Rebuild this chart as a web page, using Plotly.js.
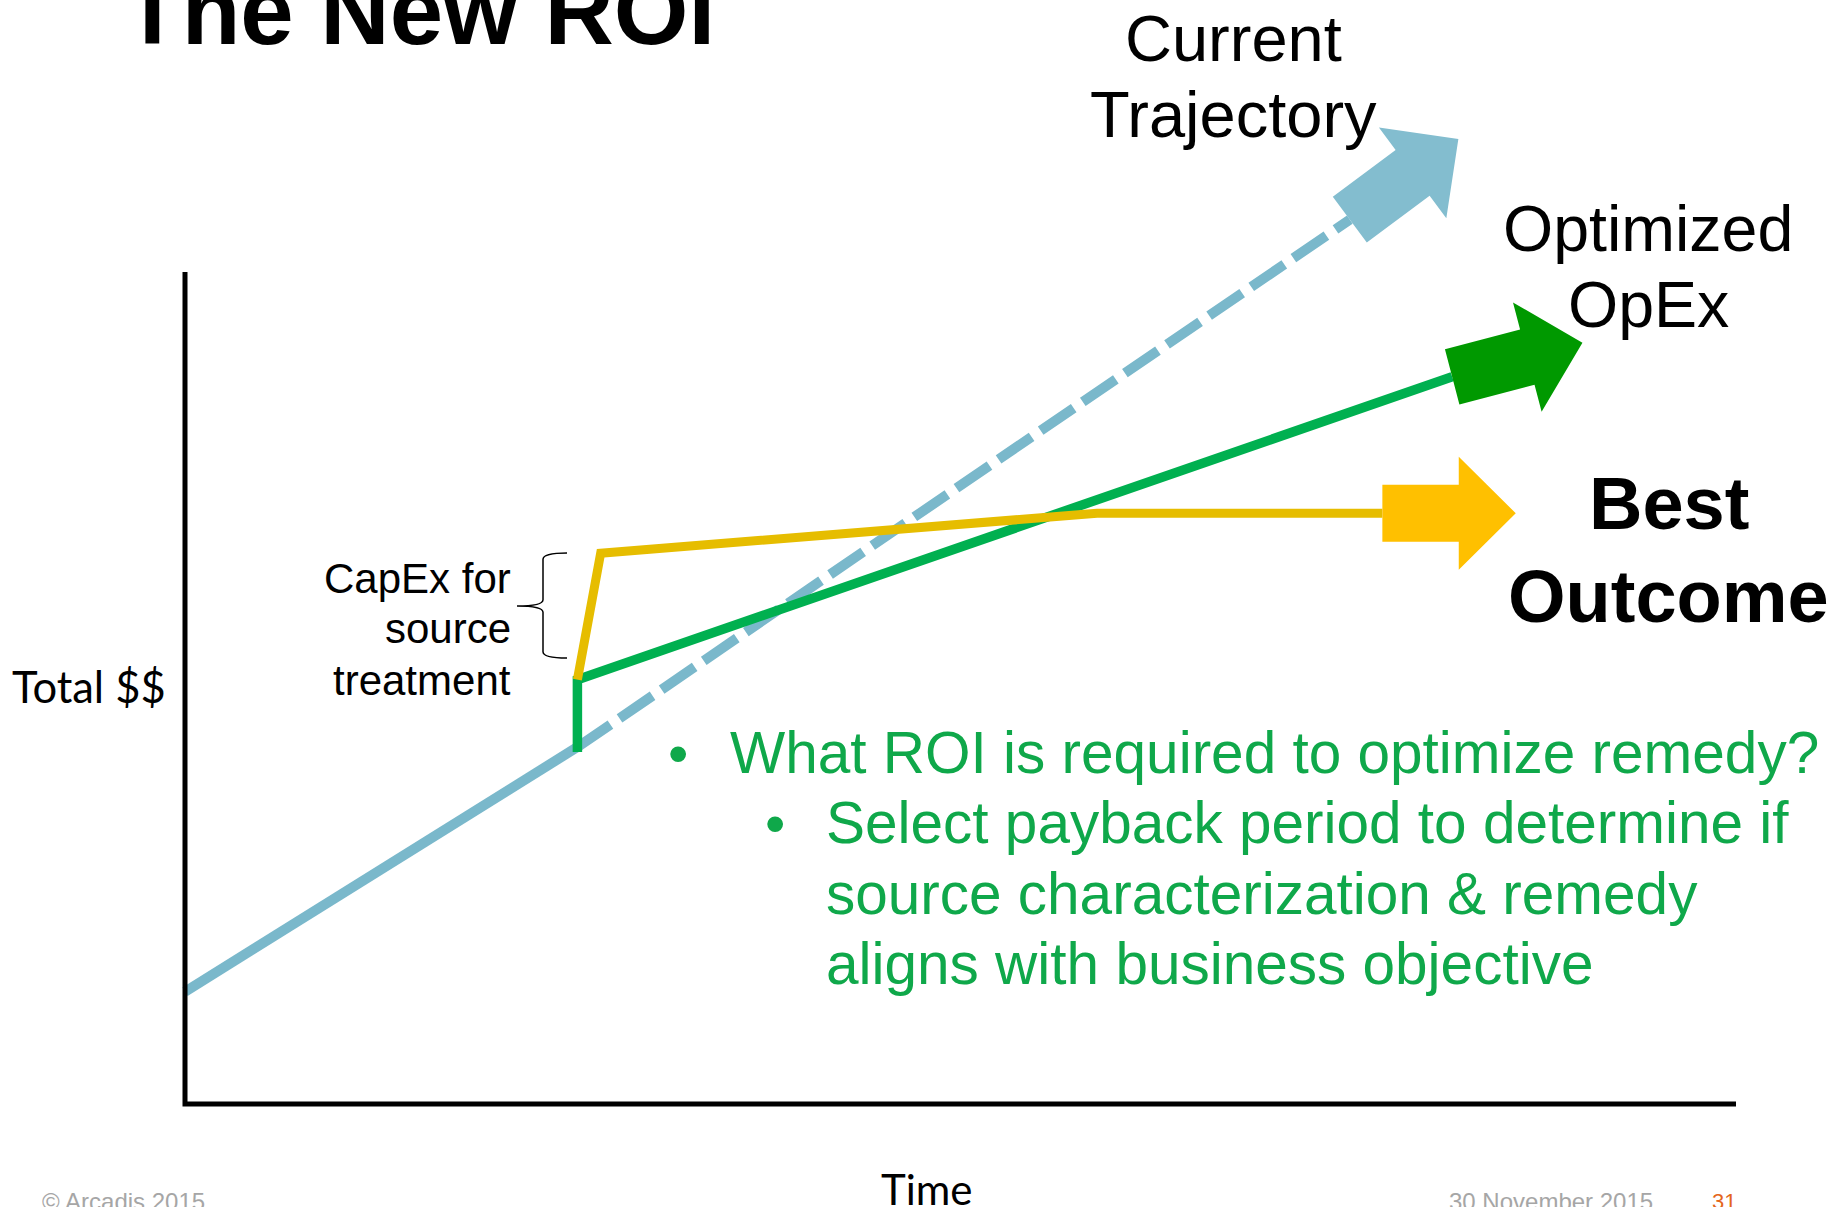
<!DOCTYPE html>
<html>
<head>
<meta charset="utf-8">
<script src="https://cdn.plot.ly/plotly-3.0.1.min.js"></script>
<style>
  html, body { margin: 0; padding: 0; background: #fff; }
  #graph { width: 1839px; height: 1207px; }
</style>
</head>
<body>
<div id="graph"></div>
<script>
// chart units: time 0..100 along the x axis, total $$ 0..100 up the y axis

// current trajectory: solid up to the decision point, dashed after it
var currentTime = [0, 25.3, 75.1];
var currentCost = [13.5, 42.9, 106.3];
var currentTip = [82.1, 116.0];

// optimized OpEx: capex jump then a flatter slope
var optTime = [25.3, 25.3, 81.7];
var optCost = [42.3, 51.0, 87.4];
var optTip = [90.1, 91.5];

// best outcome: source treatment capex, then levelling off
var bestTime = [25.3, 26.8, 58.8, 77.2];
var bestCost = [51.0, 66.2, 71.0, 71.0];
var bestTip = [85.8, 71.0];

var W = 1839, H = 1207;

// where the axes sit on the page (pixels)
var AX = { x0: 185, x1: 1736, y0: 1104, y1: 272 };
var sx = (AX.x1 - AX.x0) / 100;
var sy = (AX.y0 - AX.y1) / 100;

function toPx(t, c) { return [AX.x0 + t * sx, AX.y0 - c * sy]; }
function fromPx(px, py) { return [(px - AX.x0) / sx, (AX.y0 - py) / sy]; }

/**
 * Block arrow polygon from the end of a line to its tip.
 * Sizes are in pixels, result is in chart units.
 */
function blockArrow(backT, backC, tip) {
    var b = toPx(backT, backC), t = toPx(tip[0], tip[1]);
    var dx = t[0] - b[0], dy = t[1] - b[1];
    var len = Math.sqrt(dx * dx + dy * dy);
    var ux = dx / len, uy = dy / len;
    var nx = -uy, ny = ux;
    var shaftHalf = 28.5, headHalf = 56.5, headLen = 57;
    var s = len - headLen;
    var pts = [
        [b[0] + nx * shaftHalf, b[1] + ny * shaftHalf],
        [b[0] + ux * s + nx * shaftHalf, b[1] + uy * s + ny * shaftHalf],
        [b[0] + ux * s + nx * headHalf, b[1] + uy * s + ny * headHalf],
        [t[0], t[1]],
        [b[0] + ux * s - nx * headHalf, b[1] + uy * s - ny * headHalf],
        [b[0] + ux * s - nx * shaftHalf, b[1] + uy * s - ny * shaftHalf],
        [b[0] - nx * shaftHalf, b[1] - ny * shaftHalf]
    ];
    var xs = [], ys = [];
    pts.forEach(function (p) {
        var d = fromPx(p[0], p[1]);
        xs.push(d[0]);
        ys.push(d[1]);
    });
    xs.push(xs[0]);
    ys.push(ys[0]);
    return { x: xs, y: ys };
}

function arrowTrace(poly, color) {
    return {
        x: poly.x, y: poly.y, type: 'scatter', mode: 'lines',
        fill: 'toself', fillcolor: color, line: { width: 0, color: color },
        hoverinfo: 'skip'
    };
}

// text placed by page pixels (y = vertical middle of the line)
function label(text, px, py, size, opts) {
    opts = opts || {};
    return {
        xref: 'paper', yref: 'paper', x: px / W, y: 1 - py / H,
        text: text, showarrow: false,
        xanchor: opts.anchor || 'left', yanchor: 'middle',
        font: {
            family: opts.family || 'Liberation Sans, Arial, sans-serif',
            size: size, color: opts.color || '#000000'
        }
    };
}

function drawGraph() {
    var n = currentTime.length;
    var blue = '#7ab8cb', green = '#00b050', yellow = '#e6bd00';
    var green2 = '#0fa84a';

    var data = [
        {
            x: currentTime.slice(0, 2), y: currentCost.slice(0, 2),
            type: 'scatter', mode: 'lines',
            line: { color: blue, width: 10 }, hoverinfo: 'skip'
        },
        {
            x: currentTime.slice(1), y: currentCost.slice(1),
            type: 'scatter', mode: 'lines',
            line: { color: blue, width: 10, dash: '40px,11px' }, hoverinfo: 'skip'
        },
        arrowTrace(blockArrow(currentTime[n - 1], currentCost[n - 1], currentTip), '#83bdcf'),
        {
            x: optTime, y: optCost, type: 'scatter', mode: 'lines',
            line: { color: green, width: 9.5 }, hoverinfo: 'skip'
        },
        arrowTrace(blockArrow(optTime[optTime.length - 1], optCost[optCost.length - 1], optTip), '#009900'),
        {
            x: bestTime, y: bestCost, type: 'scatter', mode: 'lines',
            line: { color: yellow, width: 9 }, hoverinfo: 'skip'
        },
        arrowTrace(blockArrow(bestTime[bestTime.length - 1], bestCost[bestCost.length - 1], bestTip), '#ffc000')
    ];

    // curly brace next to the capex label
    var bt = fromPx(517, 606), bs = fromPx(543, 606), be = fromPx(567, 606);
    var top = fromPx(0, 553)[1], bot = fromPx(0, 658)[1], mid = bt[1];
    var r = (top - bot) * 0.06;
    var brace = 'M ' + be[0] + ',' + top +
        ' Q ' + bs[0] + ',' + top + ' ' + bs[0] + ',' + (top - r) +
        ' L ' + bs[0] + ',' + (mid + r) +
        ' Q ' + bs[0] + ',' + mid + ' ' + bt[0] + ',' + mid +
        ' Q ' + bs[0] + ',' + mid + ' ' + bs[0] + ',' + (mid - r) +
        ' L ' + bs[0] + ',' + (bot + r) +
        ' Q ' + bs[0] + ',' + bot + ' ' + be[0] + ',' + bot;

    var layout = {
        width: W, height: H,
        margin: { l: 0, r: 0, t: 0, b: 0 },
        paper_bgcolor: '#ffffff', plot_bgcolor: '#ffffff',
        showlegend: false,
        xaxis: { range: [-AX.x0 / sx, (W - AX.x0) / sx], visible: false, fixedrange: true },
        yaxis: { range: [-(H - AX.y0) / sy, AX.y0 / sy], visible: false, fixedrange: true },
        shapes: [
            {
                type: 'path', xref: 'x', yref: 'y',
                path: 'M 0,100 L 0,0 L 100,0',
                line: { color: '#000000', width: 5 }
            },
            {
                type: 'path', xref: 'x', yref: 'y', path: brace,
                line: { color: '#000000', width: 1.5 }
            }
        ],
        annotations: [
            label('<b>The New ROI</b>', 121, 10, 96),
            label('Current', 1233, 38, 65, { anchor: 'center' }),
            label('Trajectory', 1233, 114, 65, { anchor: 'center' }),
            label('Optimized', 1648, 229, 64.5, { anchor: 'center' }),
            label('OpEx', 1648, 305, 64.5, { anchor: 'center' }),
            label('<b>Best</b>', 1669, 504, 74, { anchor: 'center' }),
            label('<b>Outcome</b>', 1668, 596, 74, { anchor: 'center' }),
            label('CapEx for', 513, 578, 42, { anchor: 'right' }),
            label('source', 513, 628, 42, { anchor: 'right' }),
            label('treatment', 513, 680, 42, { anchor: 'right' }),
            label('Total $$', 10, 686, 43.5, { family: 'Lato, sans-serif' }),
            label('Time', 926, 1189, 42, { family: 'Lato, sans-serif', anchor: 'center' }),
            label('•', 678, 752, 58, { anchor: 'center', color: green2 }),
            label('What ROI is required to optimize remedy?', 728, 752, 58.5, { color: green2 }),
            label('•', 775, 822, 58, { anchor: 'center', color: green2 }),
            label('Select payback period to determine if', 824, 822, 58.5, { color: green2 }),
            label('source characterization &amp; remedy', 824, 893, 58.5, { color: green2 }),
            label('aligns with business objective', 824, 963, 58.5, { color: green2 }),
            label('© Arcadis 2015', 40, 1201, 24, { color: '#a6a6a6' }),
            label('30 November 2015', 1447, 1201, 24, { color: '#a6a6a6' }),
            label('31', 1710, 1201, 22, { color: '#e4661b' })
        ]
    };

    Plotly.newPlot('graph', data, layout, { staticPlot: true, displayModeBar: false });
}

drawGraph();
</script>
</body>
</html>
